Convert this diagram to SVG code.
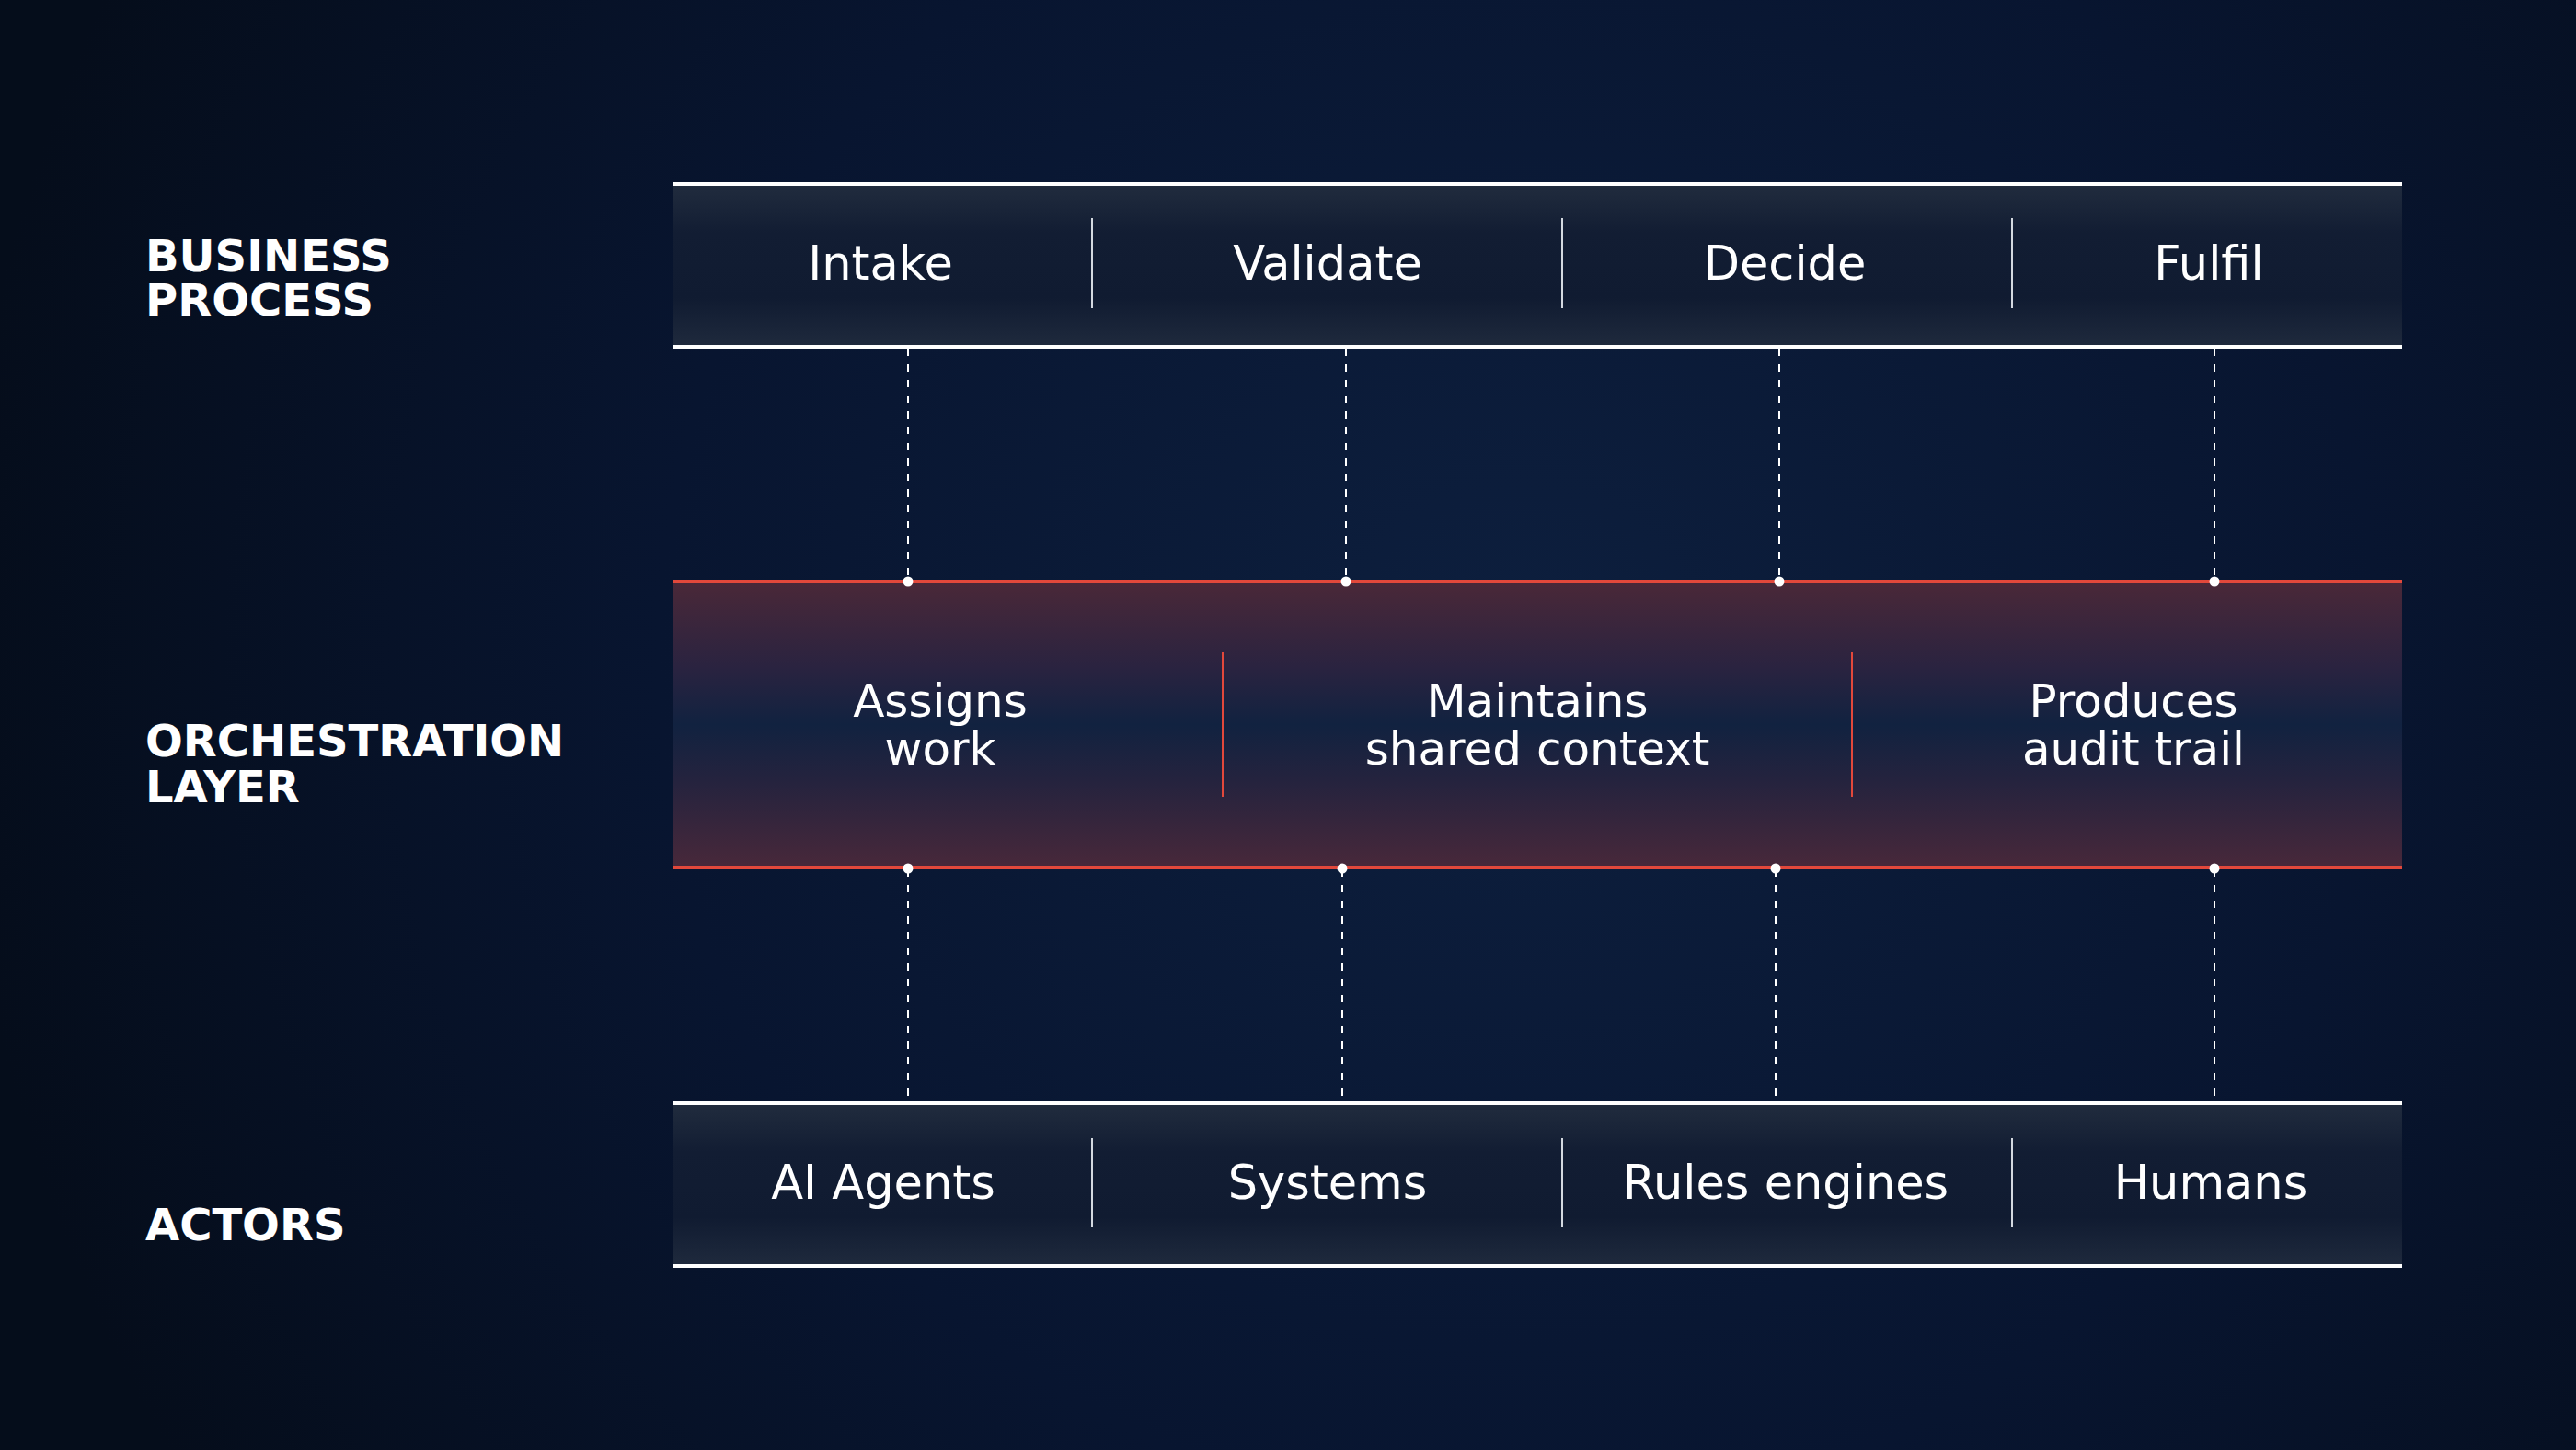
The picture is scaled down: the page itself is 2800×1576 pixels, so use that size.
<svg xmlns="http://www.w3.org/2000/svg" width="2800" height="1576" viewBox="0 0 2800 1576">
<defs>
<radialGradient id="bg" cx="1650" cy="720" r="1700" gradientUnits="userSpaceOnUse">
<stop offset="0" stop-color="#0d1f3e"/>
<stop offset="0.55" stop-color="#081530"/>
<stop offset="1" stop-color="#050d1b"/>
</radialGradient>
<linearGradient id="band" x1="0" y1="0" x2="0" y2="1">
<stop offset="0" stop-color="#212c3e"/>
<stop offset="0.3" stop-color="#121d33"/>
<stop offset="0.7" stop-color="#101b31"/>
<stop offset="1" stop-color="#1f2a3d"/>
</linearGradient>
<linearGradient id="orch" x1="0" y1="0" x2="0" y2="1">
<stop offset="0" stop-color="#4a2838"/>
<stop offset="0.3" stop-color="#2a2340"/>
<stop offset="0.5" stop-color="#112240"/>
<stop offset="0.7" stop-color="#25233e"/>
<stop offset="1" stop-color="#48283a"/>
</linearGradient>
<style>
.lbl{font-family:"DejaVu Sans","Liberation Sans",sans-serif;font-weight:bold;font-size:48px;fill:#ffffff}
.t{font-family:"DejaVu Sans","Liberation Sans",sans-serif;font-size:51px;fill:#ffffff;text-anchor:middle}
.o{font-family:"DejaVu Sans","Liberation Sans",sans-serif;font-size:50px;fill:#ffffff;text-anchor:middle}
.edge{stroke:#ffffff;stroke-width:4}
.red{stroke:#e2483b;stroke-width:4}
.div{stroke:#d4d9e0;stroke-width:2}
.rdiv{stroke:#e2483b;stroke-width:2}
.dash{stroke:#ffffff;stroke-width:2;stroke-dasharray:8 9;fill:none}
.dot{fill:#ffffff}
</style>
</defs>
<rect width="2800" height="1576" fill="url(#bg)"/>

<g id="labels">
<text class="lbl" x="158" y="295">BUSINESS</text>
<text class="lbl" x="158" y="343">PROCESS</text>
<text class="lbl" x="158" y="822">ORCHESTRATION</text>
<text class="lbl" x="158" y="872">LAYER</text>
<text class="lbl" x="158" y="1348">ACTORS</text>
</g>

<g id="connectors">
<line class="dash" x1="987" y1="379" x2="987" y2="630"/>
<line class="dash" x1="1463" y1="379" x2="1463" y2="630"/>
<line class="dash" x1="1934" y1="379" x2="1934" y2="630"/>
<line class="dash" x1="2407" y1="379" x2="2407" y2="630"/>
<line class="dash" x1="987" y1="945" x2="987" y2="1197"/>
<line class="dash" x1="1459" y1="945" x2="1459" y2="1197"/>
<line class="dash" x1="1930" y1="945" x2="1930" y2="1197"/>
<line class="dash" x1="2407" y1="945" x2="2407" y2="1197"/>
</g>

<g id="business-process">
<rect x="732" y="200" width="1879" height="177" fill="url(#band)"/>
<line class="edge" x1="732" y1="200" x2="2611" y2="200"/>
<line class="edge" x1="732" y1="377" x2="2611" y2="377"/>
<line class="div" x1="1187" y1="237" x2="1187" y2="335"/>
<line class="div" x1="1698" y1="237" x2="1698" y2="335"/>
<line class="div" x1="2187" y1="237" x2="2187" y2="335"/>
<text class="t" x="957" y="304">Intake</text>
<text class="t" x="1443" y="304">Validate</text>
<text class="t" x="1940" y="304">Decide</text>
<text class="t" x="2401" y="304">Fulfil</text>
</g>

<g id="orchestration-layer">
<rect x="732" y="632" width="1879" height="311" fill="url(#orch)"/>
<line class="red" x1="732" y1="632" x2="2611" y2="632"/>
<line class="red" x1="732" y1="943" x2="2611" y2="943"/>
<line class="rdiv" x1="1329" y1="709" x2="1329" y2="866"/>
<line class="rdiv" x1="2013" y1="709" x2="2013" y2="866"/>
<text class="o" x="1022" y="779">Assigns</text>
<text class="o" x="1022" y="831">work</text>
<text class="o" x="1671" y="779">Maintains</text>
<text class="o" x="1671" y="831">shared context</text>
<text class="o" x="2319" y="779">Produces</text>
<text class="o" x="2319" y="831">audit trail</text>
<circle class="dot" cx="987" cy="632" r="5.5"/>
<circle class="dot" cx="1463" cy="632" r="5.5"/>
<circle class="dot" cx="1934" cy="632" r="5.5"/>
<circle class="dot" cx="2407" cy="632" r="5.5"/>
<circle class="dot" cx="987" cy="944" r="5.5"/>
<circle class="dot" cx="1459" cy="944" r="5.5"/>
<circle class="dot" cx="1930" cy="944" r="5.5"/>
<circle class="dot" cx="2407" cy="944" r="5.5"/>
</g>

<g id="actors">
<rect x="732" y="1199" width="1879" height="177" fill="url(#band)"/>
<line class="edge" x1="732" y1="1199" x2="2611" y2="1199"/>
<line class="edge" x1="732" y1="1376" x2="2611" y2="1376"/>
<line class="div" x1="1187" y1="1237" x2="1187" y2="1334"/>
<line class="div" x1="1698" y1="1237" x2="1698" y2="1334"/>
<line class="div" x1="2187" y1="1237" x2="2187" y2="1334"/>
<text class="t" x="960" y="1303">AI Agents</text>
<text class="t" x="1443" y="1303">Systems</text>
<text class="t" x="1941" y="1303">Rules engines</text>
<text class="t" x="2403" y="1303">Humans</text>
</g>
</svg>
